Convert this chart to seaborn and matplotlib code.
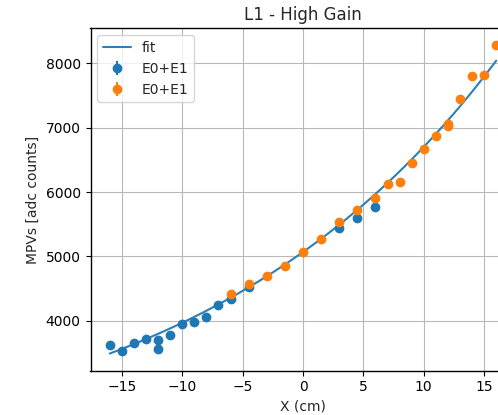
import numpy as np
import matplotlib
matplotlib.use("Agg")
import matplotlib.pyplot as plt
import seaborn as sns

# Data
x_blue = [-16.0, -15.0, -14.0, -13.0, -12.0, -12.0, -11.0, -10.0, -9.0, -8.0, -7.0, -6.0, -4.5, 3.0, 4.5, 6.0]
y_blue = [3623, 3524, 3654, 3716, 3700, 3555, 3783, 3948, 3979, 4062, 4243, 4336, 4532, 5442, 5592, 5772]

x_orange = [-6.0, -4.5, -3.0, -1.5, 0.0, 1.5, 3.0, 4.5, 6.0, 7.0, 8.0, 9.0, 10.0, 11.0, 12.0, 12.0, 13.0, 14.0, 15.0, 16.0]
y_orange = [4423, 4569, 4693, 4857, 5070, 5276, 5530, 5726, 5907, 6132, 6163, 6445, 6671, 6868, 7054, 7023, 7453, 7798, 7814, 8284]

# exponential fit parameters: A*exp(k*x) + C
fit_A = 3361.0
fit_k = 0.0396
fit_C = 1708.0
fit_x = np.linspace(-16, 16, 200)
fit_y = fit_A * np.exp(fit_k * fit_x) + fit_C

sns.set_style("whitegrid")
plt.rcParams.update({
    "axes.edgecolor": "black",
    "axes.linewidth": 1.0,
    "grid.color": "#b8b8b8",
    "grid.linewidth": 0.8,
    "xtick.bottom": True,
    "ytick.left": True,
    "xtick.major.size": 3.5,
    "ytick.major.size": 3.5,
    "xtick.color": "black",
    "ytick.color": "black",
    "font.size": 10,
})
plt.rcParams["font.family"] = ["DejaVu Sans"]

fig = plt.figure(figsize=(4.98, 4.15), dpi=100)
ax = fig.add_axes([90.5 / 498, (415 - 370.7) / 415, 425 / 498, (370.7 - 28.3) / 415])

sns.lineplot(x=fit_x, y=fit_y, ax=ax, color="#2f7fb5", linewidth=1.5, label="fit")
ax.errorbar(x_blue, y_blue, yerr=np.zeros(len(y_blue)), fmt="o", color="#1f77b4", markersize=6, label="E0+E1")
ax.errorbar(x_orange, y_orange, yerr=np.zeros(len(y_orange)), fmt="o", color="#ff7f0e", markersize=6, label="E0+E1")

ax.set_xlim(-17.6, 17.6)
ax.set_ylim(3225, 8545)
ax.set_xticks([-15, -10, -5, 0, 5, 10, 15])
ax.set_yticks([4000, 5000, 6000, 7000, 8000])
ax.set_xlabel("X (cm)", fontsize=10)
ax.set_ylabel("MPVs [adc counts]", fontsize=10)
ax.set_title("L1 - High Gain", fontsize=12)
ax.tick_params(labelsize=10)
for s in ax.spines.values():
    s.set_visible(True)
    s.set_color("black")
ax.legend(loc="upper left", fontsize=10, frameon=True)

fig.savefig("out.png", dpi=100)
